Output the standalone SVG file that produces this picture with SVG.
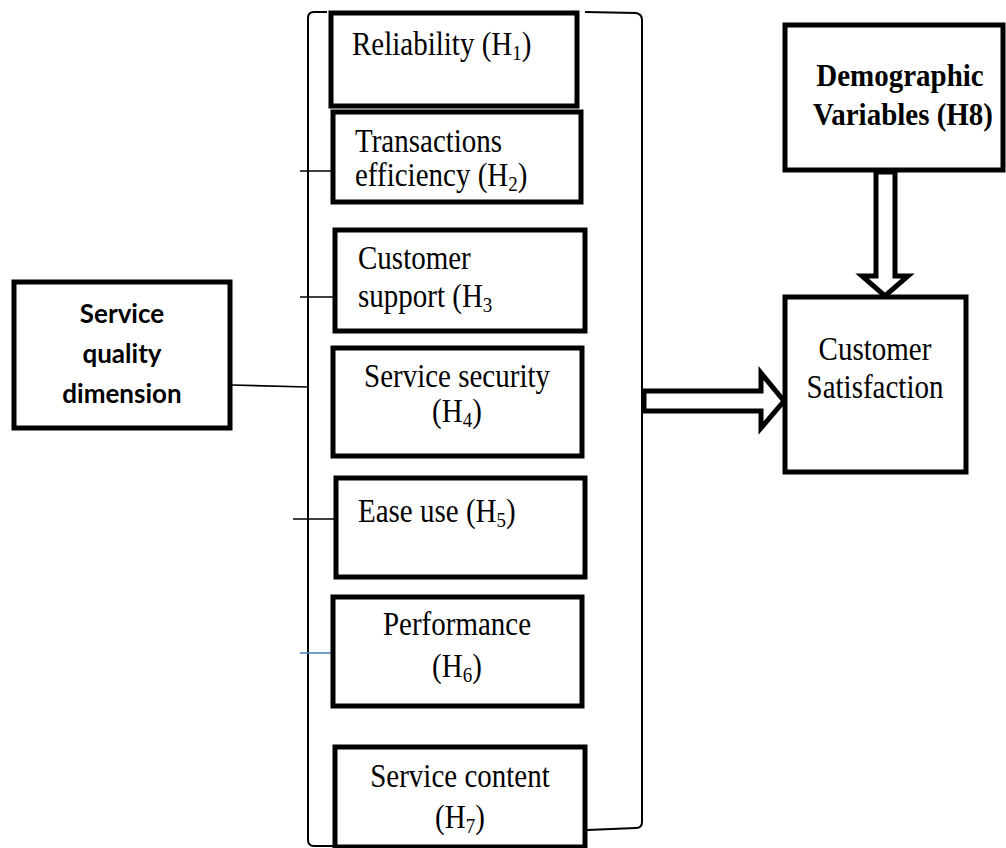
<svg xmlns="http://www.w3.org/2000/svg" width="1006" height="848" viewBox="0 0 1006 848">
<style>
.box{fill:#fff;stroke:#000;stroke-width:5}
.thin{fill:none;stroke:#000;stroke-width:2}
.tick{fill:none;stroke:#000;stroke-width:1.6}
.arr{fill:#fff;stroke:#000;stroke-width:5;stroke-linejoin:miter}
.t{font-family:"Liberation Serif","Times New Roman",serif;font-size:29px;fill:#000}
.tb{font-family:"Liberation Serif","Times New Roman",serif;font-size:29px;font-weight:bold;fill:#000}
.s{font-family:Lato,"Liberation Sans",sans-serif;font-size:26px;font-weight:bold;fill:#000}
.sub{font-size:19px}
</style>
<rect width="1006" height="848" fill="#fff"/>
<g id="connectors">
<path class="thin" d="M327 12 L314 12 Q308 12 308 18 L308 840 Q308 846 314 846 L333 846"/>
<path class="thin" d="M585 12 L636 13 Q642 14 642 20 L642 822 Q642 828 636 828 L587 830"/>
<line class="tick" x1="300" y1="171" x2="333" y2="171"/>
<line class="tick" x1="300" y1="297" x2="333" y2="297"/>
<line class="tick" x1="232" y1="385" x2="308" y2="387"/>
<line class="tick" x1="293" y1="519" x2="336" y2="519"/>
<line x1="300" y1="653" x2="333" y2="653" stroke="#4a7ebb" stroke-width="1.6"/>
<polygon class="arr" points="644,391 761,391 761,373 784,401 761,428 761,411 644,411"/>
<polygon class="arr" points="876,172 876,276 862,276 885,296 908,276 895,276 895,172"/>
</g>
<g id="n-reliability">
<rect class="box" x="331" y="13" width="246" height="93"/>
<text class="t" transform="translate(352 55) scale(1 1.15)">Reliability (H<tspan class="sub" dy="4">1</tspan><tspan dy="-4">)</tspan></text>
</g>
<g id="n-transactions">
<rect class="box" x="333" y="112" width="248" height="90"/>
<text class="t" transform="translate(355 152) scale(1 1.15)">Transactions</text>
<text class="t" transform="translate(355 186) scale(1 1.15)">efficiency (H<tspan class="sub" dy="4">2</tspan><tspan dy="-4">)</tspan></text>
</g>
<g id="n-support">
<rect class="box" x="335" y="230" width="250" height="101"/>
<text class="t" transform="translate(358 269) scale(1 1.15)">Customer</text>
<text class="t" transform="translate(358 307) scale(1 1.15)">support (H<tspan class="sub" dy="4">3</tspan></text>
</g>
<g id="n-security">
<rect class="box" x="333" y="348" width="249" height="108"/>
<text class="t" text-anchor="middle" transform="translate(457 387) scale(1 1.15)">Service security</text>
<text class="t" text-anchor="middle" transform="translate(457 422) scale(1 1.15)">(H<tspan class="sub" dy="4">4</tspan><tspan dy="-4">)</tspan></text>
</g>
<g id="n-ease">
<rect class="box" x="336" y="478" width="249" height="99"/>
<text class="t" transform="translate(358 522) scale(1 1.15)">Ease use (H<tspan class="sub" dy="4">5</tspan><tspan dy="-4">)</tspan></text>
</g>
<g id="n-performance">
<rect class="box" x="333" y="597" width="249" height="109"/>
<text class="t" text-anchor="middle" transform="translate(457 635) scale(1 1.15)">Performance</text>
<text class="t" text-anchor="middle" transform="translate(457 677) scale(1 1.15)">(H<tspan class="sub" dy="4">6</tspan><tspan dy="-4">)</tspan></text>
</g>
<g id="n-content">
<rect class="box" x="335" y="747" width="250" height="100"/>
<text class="t" text-anchor="middle" transform="translate(460 787) scale(1 1.15)">Service content</text>
<text class="t" text-anchor="middle" transform="translate(460 828) scale(1 1.15)">(H<tspan class="sub" dy="4">7</tspan><tspan dy="-4">)</tspan></text>
</g>
<g id="n-sqd">
<rect class="box" x="14" y="282" width="216" height="146"/>
<text class="s" x="122" y="323" text-anchor="middle">Service</text>
<text class="s" x="122" y="363" text-anchor="middle">quality</text>
<text class="s" x="122" y="403" text-anchor="middle">dimension</text>
</g>
<g id="n-demographic">
<rect class="box" x="785" y="25" width="218" height="145"/>
<text class="tb" text-anchor="middle" transform="translate(900 86) scale(1 1.12)">Demographic</text>
<text class="tb" text-anchor="middle" transform="translate(903 125) scale(1 1.12)">Variables (H8)</text>
</g>
<g id="n-satisfaction">
<rect class="box" x="785" y="297" width="181" height="175"/>
<text class="t" text-anchor="middle" transform="translate(875 360) scale(1 1.15)">Customer</text>
<text class="t" text-anchor="middle" transform="translate(875 398) scale(1 1.15)">Satisfaction</text>
</g>
</svg>
